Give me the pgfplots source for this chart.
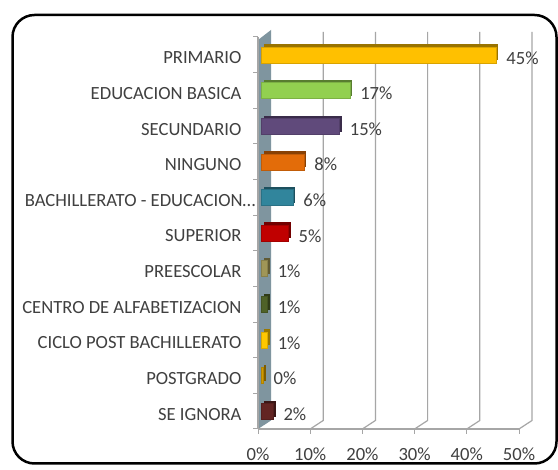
\documentclass[border=0pt]{standalone}
\usepackage{pgfplots}
\pgfplotsset{compat=1.18}
\usepackage{fontspec}
\setmainfont{Carlito}
\definecolor{txt}{HTML}{404040}
\definecolor{wall}{HTML}{7F959F}
\definecolor{gridc}{HTML}{A6A6A6}
\definecolor{c1}{HTML}{FFC000}
\definecolor{c2}{HTML}{92D050}
\definecolor{c3}{HTML}{604A7B}
\definecolor{c4}{HTML}{E36C09}
\definecolor{c5}{HTML}{31859C}
\definecolor{c6}{HTML}{C00000}
\definecolor{c7}{HTML}{A09657}
\definecolor{c8}{HTML}{4F6228}
\definecolor{c9}{HTML}{FFC800}
\definecolor{c10}{HTML}{D09A00}
\definecolor{c11}{HTML}{632523}
\newcommand\f{\fontsize{18.6bp}{21bp}\selectfont}
\newcommand\bb[3]{%
  \addplot[fill=#3!60!black, draw=none, xshift=5.5bp, yshift=2.5bp, forget plot] coordinates {(#1,#2)};
  \addplot[fill=#3, draw=#3!85!black, line width=0.4bp, xshift=3bp,
    nodes near coords={\pgfmathprintnumber[fixed,precision=0]{\pgfplotspointmeta}\%},
    point meta=x,
    every node near coord/.append style={font=\f, text=txt, anchor=west, xshift=7bp, yshift=-3bp}] coordinates {(#1,#2)};
}
\begin{document}
\begin{tikzpicture}[x=1bp,y=1bp]
\useasboundingbox (0,0) rectangle (558,470);
\fill[white] (0,0) rectangle (558,470);
\draw[line width=2.5bp, rounded corners=22bp] (12.5,455) rectangle (556.5,6.5);
\foreach \k in {1,...,5} {
  \pgfmathsetmacro\xx{258+52.2*\k}
  \draw[gridc, line width=1.2bp] (\xx,41) -- (\xx+13,49.5) -- (\xx+13,438);
}
\fill[wall] (258,41) -- (271,49.5) -- (271,440) -- (258,430) -- cycle;
\begin{axis}[
  at={(258bp,41bp)}, anchor=south west, scale only axis,
  width=261bp, height=392bp,
  xmin=0, xmax=50, ymin=-0.5, ymax=10.5,
  xbar, bar width=16bp, bar shift=0pt,
  /pgf/number format/assume math mode=true,
  axis lines*=left, axis line style={-, gridc, line width=1.2bp},
  tick align=outside, major tick length=5bp,
  tick style={gridc, line width=1bp},
  xtick={0,10,...,50},
  xticklabel={\pgfmathprintnumber{\tick}\%},
  xticklabel style={font=\f, text=txt, yshift=-10bp},
  ytick={-0.5,0.5,...,10.5}, yticklabels={},
  extra y ticks={0,1,2,3,4,5,6,7,8,9,10},
  extra y tick labels={{SE IGNORA},{POSTGRADO},{CICLO POST BACHILLERATO},{CENTRO DE ALFABETIZACION},{PREESCOLAR},{SUPERIOR},{BACHILLERATO - EDUCACION…\hspace*{-14bp}},{NINGUNO},{SECUNDARIO},{EDUCACION BASICA},{PRIMARIO}},
  extra y tick style={major tick length=0pt, yticklabel style={font=\f, text=txt, yshift=-3bp, xshift=-13bp}},
  clip=false,
]
\bb{45}{10}{c1}
\bb{17}{9}{c2}
\bb{15}{8}{c3}
\bb{8.2}{7}{c4}
\bb{6.1}{6}{c5}
\bb{5.2}{5}{c6}
\bb{1.2}{4}{c7}
\bb{1.2}{3}{c8}
\bb{1.2}{2}{c9}
\bb{0.4}{1}{c10}
\bb{2.3}{0}{c11}
\end{axis}
\end{tikzpicture}
\end{document}
